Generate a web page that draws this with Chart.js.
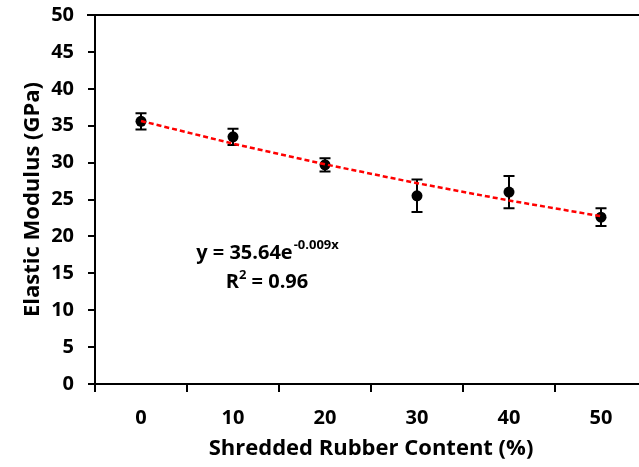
<!DOCTYPE html>
<html><head><meta charset="utf-8">
<script src="https://cdn.jsdelivr.net/npm/chart.js@4/dist/chart.umd.min.js"></script>
<style>html,body{margin:0;padding:0;background:#fff;overflow:hidden;width:639px;height:467px}</style>
</head><body>
<canvas id="c" width="660" height="467" style="display:block;width:660px;height:467px"></canvas>
<script>
const categories = ['0', '10', '20', '30', '40', '50'];
const modulus = [35.6, 33.5, 29.7, 25.5, 26.0, 22.6];
const errorHalf = [1.1, 1.1, 0.9, 2.2, 2.2, 1.2];
const trendValues = [35.64, 32.57, 29.77, 27.21, 24.87, 22.73];
const yTicks = [0, 5, 10, 15, 20, 25, 30, 35, 40, 45, 50];
const equationMain = 'y = 35.64e';
const equationExp = '-0.009x';
const r2Parts = ['R', '2', ' = 0.96'];

const FONT = '"Open Sans", "Liberation Sans", sans-serif';

const errorBars = {
  id: 'errorBars',
  beforeDatasetsDraw(chart) {
    const {ctx, scales: {x, y}} = chart;
    ctx.save();
    ctx.strokeStyle = '#000';
    ctx.lineWidth = 2;
    modulus.forEach((v, i) => {
      const px = x.getPixelForValue(i);
      const top = y.getPixelForValue(v + errorHalf[i]);
      const bot = y.getPixelForValue(v - errorHalf[i]);
      ctx.beginPath();
      ctx.moveTo(px, top); ctx.lineTo(px, bot);
      ctx.moveTo(px - 5.5, top); ctx.lineTo(px + 5.5, top);
      ctx.moveTo(px - 5.5, bot); ctx.lineTo(px + 5.5, bot);
      ctx.stroke();
    });
    ctx.restore();
  }
};

const extras = {
  id: 'extras',
  afterDraw(chart) {
    const {ctx, chartArea: a} = chart;
    ctx.save();
    ctx.strokeStyle = '#000';
    ctx.lineWidth = 2;
    ctx.beginPath();
    ctx.moveTo(a.left - 8, a.top);
    ctx.lineTo(a.right + 20, a.top);
    ctx.stroke();

    ctx.fillStyle = '#000';
    ctx.textBaseline = 'alphabetic';
    const cx = a.left + 172;
    const MAIN = 'bold 20px ' + FONT;
    const SUP = 'bold 13px ' + FONT;
    ctx.font = MAIN;
    const w1 = ctx.measureText(equationMain).width;
    ctx.font = SUP;
    const w2 = ctx.measureText(equationExp).width;
    const sx = cx - (w1 + w2) / 2;
    const b1 = a.top + 244;
    ctx.font = MAIN;
    ctx.fillText(equationMain, sx, b1);
    ctx.font = SUP;
    ctx.fillText(equationExp, sx + w1 + 1, b1 - 10);
    ctx.font = MAIN;
    const rw = ctx.measureText(r2Parts[0]).width;
    const ew = ctx.measureText(r2Parts[2]).width;
    ctx.font = SUP;
    const sw = ctx.measureText(r2Parts[1]).width;
    const b2 = a.top + 273;
    const rx = cx - (rw + sw + ew) / 2;
    ctx.font = MAIN;
    ctx.fillText(r2Parts[0], rx, b2);
    ctx.font = SUP;
    ctx.fillText(r2Parts[1], rx + rw, b2 - 9);
    ctx.font = MAIN;
    ctx.fillText(r2Parts[2], rx + rw + sw, b2);
    ctx.restore();
  }
};

new Chart(document.getElementById('c'), {
  type: 'line',
  data: {
    labels: categories,
    datasets: [
      {
        label: 'Trend',
        data: trendValues,
        borderColor: '#ff0000',
        borderWidth: 2.5,
        borderDash: [5, 3],
        pointRadius: 0,
        fill: false,
        tension: 0,
        order: 0
      },
      {
        label: 'Elastic Modulus',
        data: modulus,
        showLine: false,
        pointRadius: 5.5,
        pointBackgroundColor: '#000',
        pointBorderColor: '#000',
        pointBorderWidth: 0,
        order: 1
      }
    ]
  },
  options: {
    responsive: false,
    animation: false,
    layout: {padding: {top: 15, left: 0, right: 13, bottom: 0}},
    plugins: {legend: {display: false}, tooltip: {enabled: false}},
    scales: {
      x: {
        type: 'category',
        offset: true,
        grid: {offset: true, drawOnChartArea: false, drawTicks: true, tickLength: 8, color: '#000', lineWidth: 2},
        border: {display: true, color: '#000', width: 2},
        ticks: {color: '#000', font: {family: FONT, size: 20, weight: 'bold'}, padding: 14, maxRotation: 0, autoSkip: false},
        title: {display: true, text: 'Shredded Rubber Content (%)', color: '#000', font: {family: FONT, size: 22, weight: 'bold'}, padding: {top: 0, bottom: 5}},
        afterFit(s) { s.height = 83; s.paddingLeft = 0; s.paddingRight = 0; }
      },
      y: {
        min: 0, max: 50,
        afterBuildTicks(s) { s.ticks = yTicks.map(v => ({value: v})); },
        grid: {drawOnChartArea: false, drawTicks: true, tickLength: 7, color: '#000', lineWidth: 2},
        border: {display: true, color: '#000', width: 2},
        ticks: {color: '#000', font: {family: FONT, size: 20, weight: 'bold'}, padding: 14},
        title: {display: true, text: 'Elastic Modulus (GPa)', color: '#000', font: {family: FONT, size: 22, weight: 'bold'}, padding: {top: 20, bottom: 0}},
        afterFit(s) { s.width = 95; s.paddingTop = 0; s.paddingBottom = 0; }
      }
    }
  },
  plugins: [errorBars, extras]
});
</script>
</body></html>
